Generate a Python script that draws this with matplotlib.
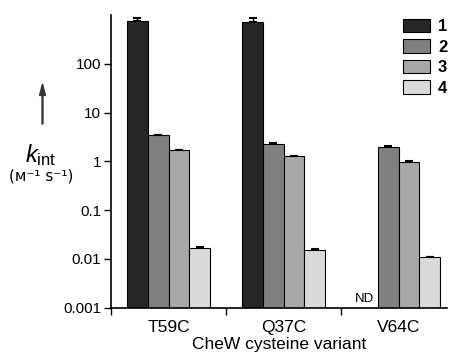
import matplotlib
matplotlib.use("Agg")
import matplotlib.pyplot as plt
import numpy as np

plt.rcParams['font.family'] = ['Liberation Sans', 'DejaVu Sans']
plt.rcParams['mathtext.fontset'] = 'custom'
plt.rcParams['mathtext.rm'] = 'Liberation Sans'
plt.rcParams['mathtext.it'] = 'Liberation Sans:italic'

categories = ["T59C", "Q37C", "V64C"]
series_names = ["1", "2", "3", "4"]
values = {
    "1": [745, 725, np.nan],
    "2": [3.4, 2.3, 1.96],
    "3": [1.67, 1.26, 0.98],
    "4": [0.0166, 0.0153, 0.0108],
}
errors = {
    "1": [130, 125, 0],
    "2": [0.15, 0.08, 0.07],
    "3": [0.06, 0.04, 0.03],
    "4": [0.0007, 0.0007, 0.0003],
}
colors = ["#262626", "#808080", "#a8a8a8", "#dadada"]

fig = plt.figure(figsize=(4.49, 3.56), dpi=100)
ax = fig.add_axes([111/449, 48.3/356, 336/449, 292.7/356])

x = np.arange(len(categories))
w = 0.18
for i, name in enumerate(series_names):
    pos = x + (i - 1.5) * w
    vals = np.array(values[name], dtype=float)
    errs = np.array(errors[name], dtype=float)
    ax.bar(pos, vals, width=w, color=colors[i], edgecolor='black',
           linewidth=0.8, label=name, zorder=2)
    mask = ~np.isnan(vals)
    ax.errorbar(pos[mask], vals[mask], yerr=[np.zeros(mask.sum()), errs[mask]],
                fmt='none', ecolor='black', elinewidth=1, capsize=3,
                capthick=1.5, zorder=1)

ax.text(x[2] - 1.65 * w, 0.00113, "ND", ha='center', va='bottom', fontsize=9.5)

ax.set_yscale('log')
ax.set_ylim(0.001, 1000)
ax.set_xlim(-0.5, 2.42)
ax.set_yticks([0.001, 0.01, 0.1, 1, 10, 100])
ax.set_yticklabels(["0.001", "0.01", "0.1", "1", "10", "100"], fontsize=11)
ax.yaxis.set_minor_locator(matplotlib.ticker.NullLocator())
ax.set_xticks([-0.5, 0.5, 1.5])
ax.set_xticklabels([])
ax.set_xticks(x, minor=True)
ax.set_xticklabels(categories, minor=True, fontsize=12.5)
ax.tick_params(axis='x', which='minor', length=0, pad=9)
ax.tick_params(axis='x', which='major', length=5, width=1, direction='out')
ax.tick_params(axis='y', length=5, width=1, direction='out', pad=2)
for s in ['top', 'right']:
    ax.spines[s].set_visible(False)
for s in ['left', 'bottom']:
    ax.spines[s].set_linewidth(1.2)
ax.set_xlabel("CheW cysteine variant", fontsize=12.5, labelpad=1)

leg = ax.legend(loc='upper left', bbox_to_anchor=(403/449, 1 - 19/356),
                bbox_transform=fig.transFigure, frameon=False,
                handlelength=1.6, handleheight=0.85, handletextpad=0.5,
                labelspacing=0.3, borderaxespad=0, borderpad=0,
                prop={'weight': 'bold', 'size': 12})

fig.text(41/449, 1 - 155/356, r"$k_{\mathrm{int}}$", fontsize=17,
         ha='center', va='center')
fig.text(41/449, 1 - 176/356, "(ᴍ⁻¹ s⁻¹)", fontsize=11, ha='center',
         va='center', family=['DejaVu Sans'])
fig.add_artist(matplotlib.patches.FancyArrow(
    42.5/449, 1 - 124/356, 0, 40/356, width=0.002, head_width=0.013,
    head_length=0.032, length_includes_head=True, color='#333333',
    transform=fig.transFigure))

fig.savefig("out.png", dpi=100)
